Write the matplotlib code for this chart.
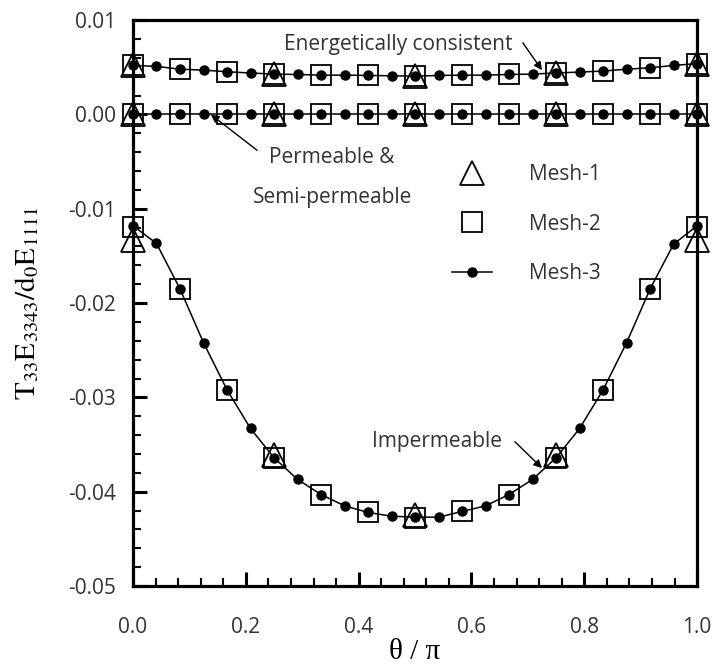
import numpy as np
import matplotlib
matplotlib.use("Agg")
import matplotlib.pyplot as plt
from matplotlib.ticker import MultipleLocator

plt.rcParams['font.family'] = ['Open Sans', 'DejaVu Sans']
plt.rcParams['mathtext.fontset'] = 'stix'

# theta/pi sample positions for each mesh
theta_m1 = [0.0, 0.25, 0.5, 0.75, 1.0]
theta_m2 = [k / 12 for k in range(13)]
theta_m3 = [k / 24 for k in range(25)]

# Energetically consistent (Mesh-3 values, Mesh-1/2 taken at their nodes)
energ_m3 = [0.0052, 0.0051, 0.0048, 0.0047, 0.00453, 0.0044, 0.00428, 0.00424,
            0.00417, 0.00417, 0.00414, 0.0041, 0.00406, 0.00414, 0.00417, 0.00417,
            0.00424, 0.00428, 0.0044, 0.0045, 0.0046, 0.0048, 0.00495, 0.0052, 0.0054]
energ_m2 = energ_m3[::2]
energ_m1 = energ_m3[::6]

# Permeable & semi-permeable
perm_m1 = [0.0] * 5
perm_m2 = [0.0] * 13
perm_m3 = [0.0] * 25

# Impermeable
imp_m1 = [-0.0133, -0.0361, -0.0425, -0.0361, -0.0133]
imp_m2 = [-0.0119, -0.0185, -0.0292, -0.0364, -0.0403, -0.0422, -0.0428,
          -0.0421, -0.0403, -0.0364, -0.0292, -0.0185, -0.0119]
imp_m3 = [-0.0118, -0.01368, -0.0185, -0.0242, -0.0292, -0.0333, -0.0364, -0.0387,
          -0.0403, -0.0415, -0.0422, -0.0426, -0.0427, -0.0427, -0.0421, -0.0415,
          -0.0403, -0.0387, -0.0364, -0.0333, -0.0292, -0.0242, -0.0185, -0.01375, -0.0118]

text_color = '#333333'
fs = 15

fig = plt.figure(figsize=(7.15, 6.72), dpi=100)
ax = fig.add_axes([0.186, 0.128, 0.789, 0.842])

for m1, m2, m3 in [(energ_m1, energ_m2, energ_m3),
                   (perm_m1, perm_m2, perm_m3),
                   (imp_m1, imp_m2, imp_m3)]:
    ax.plot(theta_m1, m1, linestyle='none', marker='^', ms=17, mfc='none',
            mec='black', mew=1.3, clip_on=False, zorder=3)
    ax.plot(theta_m2, m2, linestyle='none', marker='s', ms=15, mfc='none',
            mec='black', mew=1.3, clip_on=False, zorder=3)
    ax.plot(theta_m3, m3, '-', color='black', lw=1.1, marker='o', ms=6.5,
            mfc='black', mec='black', clip_on=False, zorder=4)

ax.set_xlim(0, 1)
ax.set_ylim(-0.05, 0.01)
ax.xaxis.set_major_locator(MultipleLocator(0.2))
ax.xaxis.set_minor_locator(MultipleLocator(0.04))
ax.yaxis.set_major_locator(MultipleLocator(0.01))
ax.yaxis.set_minor_locator(MultipleLocator(0.002))
ax.xaxis.set_major_formatter(plt.FuncFormatter(lambda v, p: f'{v:.1f}'))
ax.yaxis.set_major_formatter(plt.FuncFormatter(
    lambda v, p: f'{v:.2f}' if abs(v) > 1e-9 else '0.00'))

for s in ax.spines.values():
    s.set_linewidth(2.3)
ax.tick_params(which='major', direction='in', length=10, width=2.2,
               labelsize=fs, labelcolor=text_color)
ax.tick_params(which='minor', direction='in', length=5.5, width=1.5)
ax.tick_params(axis='x', which='major', pad=22)
ax.tick_params(axis='y', which='major', pad=12)

ax.set_xlabel('θ / π', family='Liberation Serif', fontsize=21, labelpad=1)
ax.set_ylabel(r'$\mathrm{T_{33}E_{3343}/d_0E_{1111}}$', fontsize=21, labelpad=19)

arrow = dict(arrowstyle='-|>', color='black', lw=1.0, mutation_scale=12,
             shrinkA=0, shrinkB=0)
ax.annotate('', xy=(0.725, 0.0047), xytext=(0.691, 0.0076), arrowprops=arrow)
ax.text(0.47, 0.0074, 'Energetically consistent', ha='center', va='center',
        fontsize=fs, color=text_color)
ax.annotate('', xy=(0.138, 0.0), xytext=(0.22, -0.0038), arrowprops=arrow)
ax.text(0.353, -0.0046, 'Permeable &', ha='center', va='center',
        fontsize=fs, color=text_color)
ax.text(0.353, -0.0088, 'Semi-permeable', ha='center', va='center',
        fontsize=fs, color=text_color)
ax.annotate('', xy=(0.725, -0.0375), xytext=(0.677, -0.0347), arrowprops=arrow)
ax.text(0.539, -0.0347, 'Impermeable', ha='center', va='center',
        fontsize=fs, color=text_color)

# legend proxies
h1, = ax.plot([], [], linestyle='none', marker='^', ms=17, mfc='none', mec='black', mew=1.3)
h2, = ax.plot([], [], linestyle='none', marker='s', ms=15, mfc='none', mec='black', mew=1.3)
h3, = ax.plot([], [], '-', color='black', lw=1.1, marker='o', ms=6.5, mfc='black')
leg = ax.legend([h1, h2, h3], ['Mesh-1', 'Mesh-2', 'Mesh-3'], loc='upper left',
                bbox_to_anchor=(0.565, 0.745), frameon=False, fontsize=fs,
                handlelength=1.95, handletextpad=1.75, labelspacing=1.36,
                borderpad=0, borderaxespad=0)
for t in leg.get_texts():
    t.set_color(text_color)

fig.savefig('out.png', dpi=100)
